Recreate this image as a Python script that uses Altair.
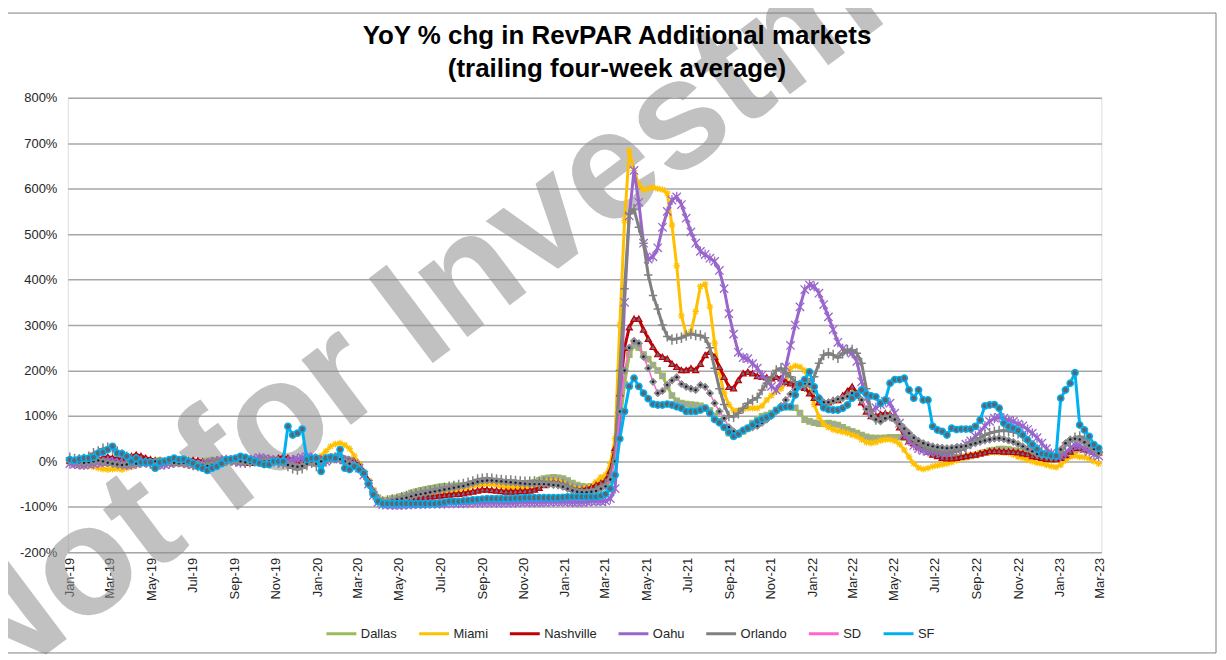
import altair as alt
import pandas as pd

# ---------------- data (YoY % change, weekly, trailing 4-week average) ----------------
SERIES = ["Dallas", "Miami", "Nashville", "Oahu", "Orlando", "SD", "SF"]
COLORS = ["#9BBB59", "#FFC000", "#C00000", "#9966CC", "#808080", "#FF66CC", "#00B0F0"]
START_DATE = "2019-01-01"
TITLE_LINES = ["YoY % chg in RevPAR Additional markets", "(trailing four-week average)"]

X_TICK_LABELS = ["Jan-19", "Mar-19", "May-19", "Jul-19", "Sep-19", "Nov-19",
                 "Jan-20", "Mar-20", "May-20", "Jul-20", "Sep-20", "Nov-20",
                 "Jan-21", "Mar-21", "May-21", "Jul-21", "Sep-21", "Nov-21",
                 "Jan-22", "Mar-22", "May-22", "Jul-22", "Sep-22", "Nov-22",
                 "Jan-23", "Mar-23"]
Y_TICKS = [-200, -100, 0, 100, 200, 300, 400, 500, 600, 700, 800]

dallas = [
    0, 2, -2, 0, 3, 2, 0, -3, 0, 2, 3, 0, -2, 0, 2, 0, -3, -2, 0, 2,
    0, -2, 0, 2, 3, 0, -2, -4, -2, 1, 3, 2, -1, 0, 2, 4, 2, -1, 0, 2,
    1, -2, 0, 3, 2, 0, -3, -1, 2, 4, 3, 1,
    5, 3, 5, 8, 10, 8, 5, 3, 0, -8, -25, -45, -65, -80, -86, -85, -82, -80, -77, -74,
    -70, -67, -64, -62, -60, -58, -56, -55, -55, -54, -54, -53, -52, -50, -48, -47, -46, -46, -47, -48,
    -49, -50, -50, -50, -49, -48, -46, -42, -38, -36, -35, -36,
    -38, -42, -48, -52, -55, -56, -55, -50, -45, -40, -25, 10, 80, 170, 235, 255, 250, 235, 225, 212,
    200, 188, 165, 145, 133, 128, 126, 125, 124, 122, 118, 112, 100, 88, 75, 62, 57, 60, 66, 73,
    84, 91, 99, 102, 106, 113, 118, 120, 120, 118, 106, 92,
    88, 85, 83, 83, 84, 82, 80, 75, 70, 66, 62, 58, 54, 52, 51, 51, 52, 53, 53, 53,
    52, 49, 42, 36, 31, 25, 20, 16, 13, 12, 10, 9, 9, 10, 12, 14, 17, 20, 23, 25,
    27, 27, 26, 24, 22, 19, 16, 13, 9, 7, 5, 5,
    5, 8, 12, 18, 24, 27, 27, 25, 22, 20]

miami = [
    -3, -8, -10, -11, -10, -12, -15, -17, -18, -17, -16, -18, -15, -12, -8, -5, -3, -2, 0, 2,
    0, -2, -3, -5, -6, -8, -10, -12, -14, -15, -13, -8, -5, -2, 0, 2, 3, 2, 0, -2,
    -3, -2, 0, 2, 3, 5, 3, 2, 0, 2, 3, 4,
    5, 12, 22, 33, 38, 40, 36, 28, 12, -5, -25, -50, -72, -85, -88, -88, -87, -86, -84, -82,
    -80, -78, -77, -76, -75, -74, -72, -70, -68, -66, -63, -60, -57, -54, -52, -51, -50, -50, -52, -54,
    -57, -58, -58, -57, -56, -55, -54, -52, -48, -44, -42, -43,
    -48, -55, -58, -60, -60, -58, -55, -45, -35, -30, -5, 50, 300, 530, 683, 640, 610, 598, 600, 603,
    600, 598, 590, 520, 430, 320, 280, 285, 330, 385, 390, 340, 260, 195, 150, 125, 112, 112, 115, 117,
    117, 117, 122, 135, 145, 155, 160, 172, 205, 210, 208, 200,
    170, 125, 98, 82, 75, 70, 67, 65, 62, 58, 55, 48, 42, 40, 42, 46, 48, 48, 45, 38,
    25, 10, -5, -14, -17, -15, -11, -9, -7, -5, -2, 2, 6, 9, 12, 15, 17, 19, 20, 20,
    20, 19, 18, 15, 10, 7, 3, 0, -3, -5, -8, -11,
    -13, -8, 2, 10, 12, 10, 9, 6, 0, -5]

nashville = [
    2, 5, 8, 6, 4, 3, 5, 8, 10, 8, 6, 5, 8, 12, 15, 12, 8, 5, 3, 2,
    0, -2, -3, -2, 0, 2, 3, 2, 0, -2, -3, -2, 0, 2, 3, 2, 0, -2, -3, -2,
    0, 2, 3, 5, 8, 10, 8, 5, 3, 2, 3, 5,
    8, 5, 8, 10, 10, 8, 5, 2, 0, -8, -22, -42, -65, -82, -88, -89, -88, -87, -86, -84,
    -82, -80, -79, -78, -77, -76, -75, -74, -73, -72, -71, -70, -68, -66, -64, -62, -62, -63, -64, -65,
    -66, -66, -66, -65, -65, -64, -62, -58, -52, -48, -46, -47,
    -50, -55, -60, -62, -62, -60, -57, -52, -48, -42, -20, 30, 150, 250, 295, 314, 314, 290, 270, 252,
    236, 230, 226, 215, 208, 201, 201, 205, 201, 215, 234, 241, 230, 208, 186, 164, 161, 179, 194, 197,
    194, 188, 186, 185, 183, 186, 183, 175, 172, 168, 165, 162,
    150, 140, 130, 128, 130, 135, 135, 145, 155, 165, 150, 130, 110, 100, 100, 104, 106, 104, 95, 75,
    55, 45, 40, 33, 27, 22, 15, 12, 8, 7, 7, 8, 10, 12, 14, 15, 18, 20, 23, 23,
    23, 22, 22, 21, 20, 18, 16, 12, 10, 8, 6, 5,
    5, 8, 14, 22, 30, 30, 27, 25, 22, 20]

oahu = [
    -5, -6, -7, -8, -6, -5, -3, -2, 0, -2, -4, -6, -8, -7, -5, -3, -2, -4, -6, -8,
    -7, -5, -3, -2, -3, -5, -7, -8, -6, -4, -2, 0, 2, 3, 2, 0, -2, 0, 3, 5,
    8, 6, 4, 2, 0, -2, 0, 3, 5, 8, 10, 8,
    5, 0, 0, 5, 8, 5, 3, 0, -5, -15, -30, -50, -75, -90, -95, -95, -96, -96, -96, -95,
    -95, -94, -94, -94, -93, -93, -93, -93, -92, -92, -92, -92, -92, -91, -91, -91, -91, -91, -91, -91,
    -91, -91, -91, -90, -90, -90, -90, -90, -90, -89, -89, -89,
    -89, -89, -90, -90, -90, -89, -88, -88, -88, -87, -82, -60, 100, 350, 540, 640, 570, 480, 445, 450,
    470, 515, 550, 575, 582, 565, 535, 505, 480, 462, 455, 447, 440, 420, 380, 325, 280, 240, 228, 226,
    215, 205, 190, 178, 165, 157, 175, 208, 255, 300, 340, 378,
    388, 385, 370, 345, 318, 290, 262, 248, 242, 238, 220, 175, 140, 110, 118, 125, 132, 128, 106, 84,
    60, 45, 35, 28, 24, 22, 22, 20, 18, 18, 20, 25, 30, 38, 45, 55, 65, 78, 88, 95,
    97, 95, 90, 88, 82, 78, 70, 62, 52, 40, 28, 18,
    12, 12, 18, 30, 36, 35, 28, 22, 15, 12]

orlando = [
    8, 5, 3, 5, 10, 18, 22, 28, 30, 28, 22, 15, 10, 5, 2, 0, -2, -5, -8, -5,
    -2, 0, 2, 0, -3, -5, -8, -10, -8, -5, -2, 0, 2, 3, 2, 0, -2, -3, -2, 0,
    2, 3, 2, 0, -3, -5, -10, -15, -18, -15, -8, -3,
    -10, -5, 0, 5, 8, 5, 0, -3, -5, -12, -28, -48, -68, -82, -88, -86, -84, -82, -79, -76,
    -73, -70, -68, -66, -64, -62, -60, -58, -56, -54, -52, -50, -47, -44, -40, -38, -37, -38, -40, -41,
    -42, -42, -43, -44, -45, -45, -44, -44, -45, -46, -46, -47,
    -50, -55, -60, -62, -64, -64, -63, -60, -55, -50, -30, 20, 200, 380, 545, 555, 515, 480, 410, 365,
    335, 300, 275, 268, 270, 272, 277, 281, 278, 277, 272, 250, 205, 160, 125, 100, 98, 106, 117, 128,
    135, 140, 157, 172, 186, 200, 205, 195, 186, 175, 168, 164,
    172, 186, 216, 234, 238, 234, 228, 238, 245, 245, 238, 216, 160, 110, 92, 95, 100, 100, 95, 82,
    70, 58, 48, 40, 33, 28, 24, 22, 20, 20, 20, 22, 25, 30, 38, 45, 52, 58, 62, 65,
    67, 68, 67, 65, 62, 55, 45, 35, 27, 20, 15, 12,
    12, 20, 35, 45, 52, 55, 50, 40, 30, 22]

sd = [
    2, 0, -2, -3, -2, 0, 2, 0, -3, -5, -7, -8, -7, -6, -5, -4, -3, -2, 0, 2,
    0, -2, -3, -4, -3, -2, -4, -6, -8, -10, -8, -6, -4, -2, 0, 2, 0, -2, -3, -2,
    -1, 0, 0, -2, -3, -5, -8, -10, -12, -10, -5, 0,
    -5, 0, 5, 8, 10, 5, 0, -5, -8, -15, -30, -50, -70, -84, -89, -88, -86, -84, -82, -80,
    -77, -74, -72, -70, -68, -66, -64, -62, -60, -58, -56, -54, -51, -48, -45, -43, -42, -42, -43, -44,
    -45, -46, -47, -48, -49, -50, -50, -50, -50, -51, -52, -53,
    -56, -60, -64, -67, -68, -68, -67, -65, -60, -55, -40, 0, 110, 200, 250, 265, 260, 230, 205, 175,
    150, 155, 168, 178, 185, 170, 164, 160, 157, 168, 164, 150, 128, 110, 95, 75, 66, 62, 68, 72,
    75, 78, 85, 92, 100, 110, 122, 135, 148, 158, 165, 172,
    170, 155, 140, 130, 130, 133, 137, 139, 143, 150, 145, 135, 115, 100, 92, 88, 95, 98, 92, 82,
    72, 62, 52, 45, 40, 36, 33, 31, 30, 29, 30, 31, 32, 34, 37, 40, 43, 46, 48, 50,
    51, 49, 46, 43, 38, 33, 27, 22, 16, 13, 12, 11,
    12, 26, 40, 48, 50, 48, 42, 35, 27, 18]

sf = [
    4, 2, 5, 7, 7, 9, 18, 20, 26, 33, 18, 17, 11, 0, 7, -2, -2, -2, -15, -2,
    0, 4, 7, 4, 5, 0, -4, -11, -15, -20, -15, -11, -5, 4, 5, 7, 11, 9, 4, 0,
    -4, -7, -7, 0, 0, 0, 77, 58, 62, 71, 4, 7,
    7, -22, 7, 9, 7, 26, -15, -18, -11, -18, -26, -50, -73, -88, -93, -93, -93, -93, -93, -93,
    -93, -93, -93, -93, -93, -93, -92, -90, -88, -88, -88, -87, -86, -85, -84, -83, -82, -82, -82, -82,
    -82, -82, -81, -81, -80, -80, -80, -80, -80, -80, -80, -80,
    -79, -78, -78, -78, -78, -78, -78, -78, -76, -72, -60, -30, 50, 110, 165, 183, 165, 150, 138, 126,
    124, 124, 126, 124, 120, 117, 110, 110, 110, 113, 117, 106, 92, 85, 75, 64, 55, 60, 68, 73,
    80, 88, 93, 97, 102, 112, 118, 120, 120, 146, 170, 180,
    197, 164, 139, 118, 114, 113, 113, 117, 124, 139, 146, 157, 148, 144, 142, 128, 135, 172, 180, 180,
    183, 157, 139, 157, 135, 135, 77, 69, 66, 58, 73, 70, 71, 71, 71, 77, 91, 122, 124, 125,
    117, 84, 77, 73, 68, 58, 47, 37, 27, 17, 15, 12,
    12, 139, 157, 172, 195, 80, 69, 55, 37, 29]

VALUES = {"Dallas": dallas, "Miami": miami, "Nashville": nashville, "Oahu": oahu,
          "Orlando": orlando, "SD": sd, "SF": sf}

rows = []
for name in SERIES:
    vals = VALUES[name]
    dates = pd.date_range(START_DATE, periods=len(vals), freq="7D")
    for d, v in zip(dates, vals):
        rows.append({"series": name, "date": d.strftime("%Y-%m-%d"), "value": v})
df = pd.DataFrame(rows)

tick_dates = [pd.to_datetime(t, format="%b-%y") for t in X_TICK_LABELS]
tick_values = [alt.DateTime(year=t.year, month=t.month, date=1) for t in tick_dates]

# ---------------- styles ----------------
FONT = "Liberation Sans"
MARKERS = {
    "Dallas":    dict(shape="square", size=30, filled=True, fill="#a3a3a8", stroke="#9BBB59", strokeWidth=1.2),
    "Miami":     dict(shape="M-1,0L1,0M0,-1L0,1M-0.75,-0.75L0.75,0.75M-0.75,0.75L0.75,-0.75",
                      size=45, filled=False, stroke="#FFC000", strokeWidth=1.2),
    "Nashville": dict(shape="triangle-up", size=38, filled=True, fill="#6e6a8c", stroke="#C00000", strokeWidth=1.2),
    "Oahu":      dict(shape="M-1,-1L1,1M-1,1L1,-1M0,-1.2L0,1.2", size=70, filled=False,
                      stroke="#9966CC", strokeWidth=1.3),
    "Orlando":   dict(shape="M0,-1L0,1M-0.8,0L0.8,0", size=110, filled=False, stroke="#808080", strokeWidth=1.5),
    "SD":        dict(shape="diamond", size=55, filled=True, fill="#8c8c8c", stroke="#8c8c8c", strokeWidth=1),
    "SF":        dict(shape="circle", size=40, filled=True, fill="#5b6670", stroke="#00B0F0", strokeWidth=1.5),
}
LINE_W = {"SD": 1.5}

x_enc = alt.X("date:T",
              scale=alt.Scale(domain=[alt.DateTime(year=2018, month=12, date=29),
                                      alt.DateTime(year=2023, month=3, date=4)], nice=False),
              axis=alt.Axis(values=tick_values, format="%b-%y", labelAngle=270, grid=False,
                            ticks=False, domain=False, labelFontSize=13, labelFont=FONT,
                            labelColor="#262626", labelPadding=5, labelOverlap=False),
              title=None)
y_enc = alt.Y("value:Q",
              scale=alt.Scale(domain=[-200, 800], nice=False, zero=False),
              axis=alt.Axis(values=Y_TICKS, labelExpr="datum.value + '%'", grid=True,
                            gridColor="#a6a6a6", gridWidth=1.5, domain=False, ticks=False,
                            labelFontSize=13, labelFont=FONT, labelColor="#262626", labelPadding=11),
              title=None)
stroke_enc = alt.Stroke("series:N", scale=alt.Scale(domain=SERIES, range=COLORS),
                        legend=alt.Legend(orient="none", legendX=258, legendY=521, direction="horizontal",
                                          title=None, symbolType="stroke", symbolSize=900,
                                          symbolStrokeWidth=3, labelFont=FONT, labelFontSize=13,
                                          labelColor="#262626", labelOffset=3, columnPadding=15))

layers = []

# watermark (semi-transparent, beneath the series)
wm = alt.Chart(alt.Data(values=[{}])).mark_text(
    text="Not for Investment Use", font=FONT, fontWeight="bold", fontSize=155,
    color="#8f8f8f", opacity=0.55, angle=323, align="left", baseline="alphabetic"
).encode(x=alt.value(-82), y=alt.value(604))
layers.append(wm)

for name in SERIES:
    sel = alt.datum.series == name
    line = alt.Chart().mark_line(strokeWidth=LINE_W.get(name, 3), strokeJoin="round").encode(
        x=x_enc, y=y_enc, stroke=stroke_enc).transform_filter(sel)
    layers.append(line)
    m = MARKERS[name]
    pts = alt.Chart().mark_point(opacity=1, **m).encode(x=x_enc, y=y_enc).transform_filter(sel)
    layers.append(pts)
    if name == "SD":
        dots = alt.Chart().mark_point(shape="circle", size=6, filled=True, fill="#1b1b3a",
                                      opacity=1).encode(x=x_enc, y=y_enc).transform_filter(sel)
        layers.append(dots)

# title, drawn as text marks centred over the chart frame
for k, line_text in enumerate(TITLE_LINES):
    t = alt.Chart(alt.Data(values=[{}])).mark_text(
        text=line_text, font=FONT, fontWeight="bold", fontSize=26, color="#000000",
        align="center", baseline="middle"
    ).encode(x=alt.value(551), y=alt.value(-62 + 33 * k))
    layers.append(t)

# outer frame
frame = alt.Chart(alt.Data(values=[{}])).mark_rect(
    fillOpacity=0, stroke="#7f7f7f", strokeWidth=1
).encode(x=alt.value(-63), x2=alt.value(1152), y=alt.value(-85), y2=alt.value(557))
layers.append(frame)

chart = alt.layer(*layers, data=df).properties(
    width=1037, height=456,
    autosize=alt.AutoSizeParams(type="none"),
    padding={"left": 60, "top": 89, "right": 117, "bottom": 103},
).configure_view(stroke=None).configure(background="white")

chart.save("out.html", embed_options={"renderer": "svg", "actions": False})
